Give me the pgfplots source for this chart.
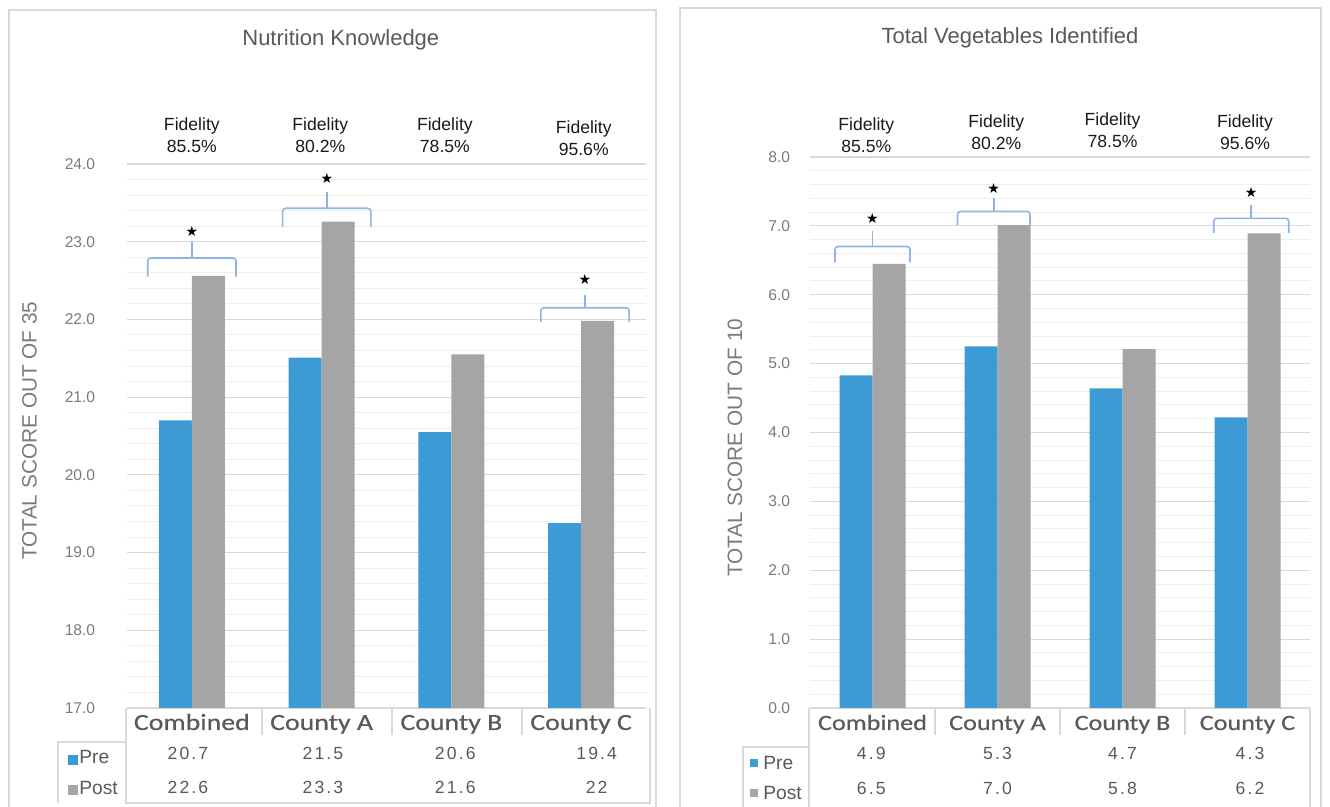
\documentclass[border=0pt]{standalone}
\usepackage{pgfplots}
\pgfplotsset{compat=1.18}
\usepackage{fontspec}
\setmainfont{Liberation Sans}
\newfontfamily\catfont[FakeStretch=1.2, FakeBold=0.5]{Carlito}
\newfontfamily\numfont[LetterSpace=12]{Liberation Sans}
\newfontfamily\symfont{DejaVu Sans}
\definecolor{preblue}{HTML}{3C9BD4}
\definecolor{postgray}{HTML}{A5A5A5}
\definecolor{brk}{HTML}{8DB4E2}
\definecolor{framec}{HTML}{D9D9D9}
\definecolor{txtgray}{HTML}{595959}
\definecolor{tickgray}{HTML}{7A7A7A}

\newcommand\brk[6]{%
  \draw[brk, line width=0.8pt, rounded corners=1.5pt] (axis cs:#1-#2,#3) -- (axis cs:#1-#2,#4) -- (axis cs:#1+#2,#4) -- (axis cs:#1+#2,#3);
  \draw[brk, line width=0.8pt] (axis cs:#1,#4) -- (axis cs:#1,#5);
  \node[font=\symfont\fontsize{7}{7}\selectfont, inner sep=0pt] at (axis cs:#1,#6) {★};
}

\tikzset{
  fid/.style={font=\fontsize{8.8}{11}\selectfont, align=center, text=black!90},
  num/.style={font=\numfont\fontsize{8.8}{10}\selectfont, text=txtgray},
}

\pgfplotsset{
  panel/.style={
    scale only axis, anchor=south west,
    ybar=0pt, bar width=16.5pt,
    xmin=-0.5, xmax=3.5, xtick={0,1,2,3},
    xticklabels={Combined,County A,County B,County C},
    xticklabel style={font=\catfont\fontsize{11.6}{13}\selectfont, text=txtgray, anchor=base, yshift=-11pt},
    axis x line*=bottom, axis y line*=left, axis line style={draw=none},
    major tick length=0pt, minor tick length=0pt,
    ymajorgrids, yminorgrids, minor y tick num=4,
    major grid style={draw=framec, line width=0.6pt},
    minor grid style={draw=framec!45, line width=0.5pt},
    ylabel style={font=\fontsize{10.4}{12}\selectfont, text=tickgray, anchor=center},
    title style={font=\fontsize{11}{13}\selectfont, text=txtgray, anchor=center, yshift=-6pt},
    clip mode=individual,
  },
}

\begin{document}
\begin{tikzpicture}
\useasboundingbox (0,0) rectangle (665pt,403.5pt);
% panel frames
\draw[framec, line width=0.7pt] (4.5pt,0pt) -- (4.5pt,398.5pt) -- (328pt,398.5pt) -- (328pt,0pt);
\draw[framec, line width=0.7pt] (340pt,0pt) -- (340pt,399.5pt) -- (660.5pt,399.5pt) -- (660.5pt,0pt);
% left data table lines
\draw[framec, line width=0.6pt] (29pt,2pt) -- (29pt,32.5pt) -- (63pt,32.5pt);
\draw[framec, line width=0.6pt] (63pt,49.5pt) -- (63pt,2pt) -- (325pt,2pt) -- (325pt,49.5pt);
\foreach \x in {131,196,261} \draw[framec, line width=0.6pt] (\x*1pt,49.5pt) -- (\x*1pt,36pt);
% right data table lines
\draw[framec, line width=0.6pt] (371.5pt,0pt) -- (371.5pt,30pt) -- (404.5pt,30pt);
\draw[framec, line width=0.6pt] (404.5pt,49.5pt) -- (404.5pt,0pt);
\draw[framec, line width=0.6pt] (655pt,49.5pt) -- (655pt,0pt);
\foreach \x in {467.5,530,592.5} \draw[framec, line width=0.6pt] (\x*1pt,49.5pt) -- (\x*1pt,36pt);
% legend keys
\fill[preblue] (33.75pt,21pt) rectangle +(5pt,5pt);
\fill[postgray] (33.75pt,6pt) rectangle +(5pt,5pt);
\node[anchor=west, font=\fontsize{9.6}{11}\selectfont, text=txtgray, inner sep=0pt] at (39.5pt,25pt) {Pre};
\node[anchor=west, font=\fontsize{9.6}{11}\selectfont, text=txtgray, inner sep=0pt] at (39.5pt,9.5pt) {Post};
\fill[preblue] (375pt,20pt) rectangle +(4pt,4pt);
\fill[postgray] (375pt,5pt) rectangle +(4pt,4pt);
\node[anchor=west, font=\fontsize{9.6}{11}\selectfont, text=txtgray, inner sep=0pt] at (381.5pt,22pt) {Pre};
\node[anchor=west, font=\fontsize{9.6}{11}\selectfont, text=txtgray, inner sep=0pt] at (381.5pt,7pt) {Post};

% ---------------- left panel ----------------
\begin{axis}[panel, name=L,
  at={(63.5pt,49.5pt)}, width=259.5pt, height=272pt,
  ymin=17, ymax=24, ytick={17,18,...,24},
  yticklabel style={font=\fontsize{7.8}{9}\selectfont, text=tickgray, xshift=-12.4pt,
    /pgf/number format/.cd, fixed, fixed zerofill, precision=1, assume math mode=true},
  ylabel={TOTAL SCORE OUT OF 35},
  ylabel style={at={(rel axis cs:-0.188,0.51)}},
  title={Nutrition Knowledge},
  title style={at={(rel axis cs:0.412,1.228)}},
]
\addplot[fill=preblue, draw=none] coordinates {(0,20.70) (1,21.51) (2,20.55) (3,19.38)};
\addplot[fill=postgray, draw=none] coordinates {(0,22.56) (1,23.26) (2,21.55) (3,21.98)};
\brk{0.0}{0.34}{22.55}{22.79}{23.0}{23.13}
\brk{1.04}{0.34}{23.19}{23.43}{23.64}{23.82}
\brk{3.03}{0.34}{21.97}{22.15}{22.32}{22.51}
\node[fid] at (axis cs:0,24.37) {Fidelity\\85.5\%};
\node[fid] at (axis cs:0.99,24.37) {Fidelity\\80.2\%};
\node[fid] at (axis cs:1.95,24.37) {Fidelity\\78.5\%};
\node[fid] at (axis cs:3.02,24.33) {Fidelity\\95.6\%};
\node[num] at ([yshift=-22.5pt]axis cs:-0.03,17) {20.7};
\node[num] at ([yshift=-22.5pt]axis cs:1.01,17) {21.5};
\node[num] at ([yshift=-22.5pt]axis cs:2.03,17) {20.6};
\node[num] at ([yshift=-22.5pt]axis cs:3.12,17) {19.4};
\node[num] at ([yshift=-39.5pt]axis cs:-0.03,17) {22.6};
\node[num] at ([yshift=-39.5pt]axis cs:1.01,17) {23.3};
\node[num] at ([yshift=-39.5pt]axis cs:2.03,17) {21.6};
\node[num] at ([yshift=-39.5pt]axis cs:3.12,17) {22};
\end{axis}

% ---------------- right panel ----------------
\begin{axis}[panel, name=R,
  at={(405pt,49.5pt)}, width=250pt, height=275.5pt,
  ymin=0, ymax=8, ytick={0,1,...,8},
  xticklabel style={font=\catfont\fontsize{10.9}{12}\selectfont},
  yticklabel style={font=\fontsize{7.8}{9}\selectfont, text=tickgray, xshift=-6.4pt,
    /pgf/number format/.cd, fixed, fixed zerofill, precision=1, assume math mode=true},
  ylabel={TOTAL SCORE OUT OF 10},
  ylabel style={at={(rel axis cs:-0.15,0.472)}},
  title={Total Vegetables Identified},
  title style={at={(rel axis cs:0.40,1.216)}},
]
\addplot[fill=preblue, draw=none] coordinates {(0,4.83) (1,5.25) (2,4.64) (3,4.22)};
\addplot[fill=postgray, draw=none] coordinates {(0,6.45) (1,7.01) (2,5.21) (3,6.89)};
\brk{0.0}{0.30}{6.47}{6.70}{6.93}{7.11}
\brk{0.97}{0.29}{7.01}{7.21}{7.41}{7.54}
\brk{3.03}{0.30}{6.90}{7.11}{7.30}{7.48}
\node[fid] at (axis cs:-0.05,8.32) {Fidelity\\85.5\%};
\node[fid] at (axis cs:0.99,8.36) {Fidelity\\80.2\%};
\node[fid] at (axis cs:1.92,8.39) {Fidelity\\78.5\%};
\node[fid] at (axis cs:2.98,8.36) {Fidelity\\95.6\%};
\node[num] at ([yshift=-22.5pt]axis cs:-0.01,0) {4.9};
\node[num] at ([yshift=-22.5pt]axis cs:1.0,0) {5.3};
\node[num] at ([yshift=-22.5pt]axis cs:2.0,0) {4.7};
\node[num] at ([yshift=-22.5pt]axis cs:3.02,0) {4.3};
\node[num] at ([yshift=-40pt]axis cs:-0.01,0) {6.5};
\node[num] at ([yshift=-40pt]axis cs:1.0,0) {7.0};
\node[num] at ([yshift=-40pt]axis cs:2.0,0) {5.8};
\node[num] at ([yshift=-40pt]axis cs:3.02,0) {6.2};
\end{axis}
\end{tikzpicture}
\end{document}
